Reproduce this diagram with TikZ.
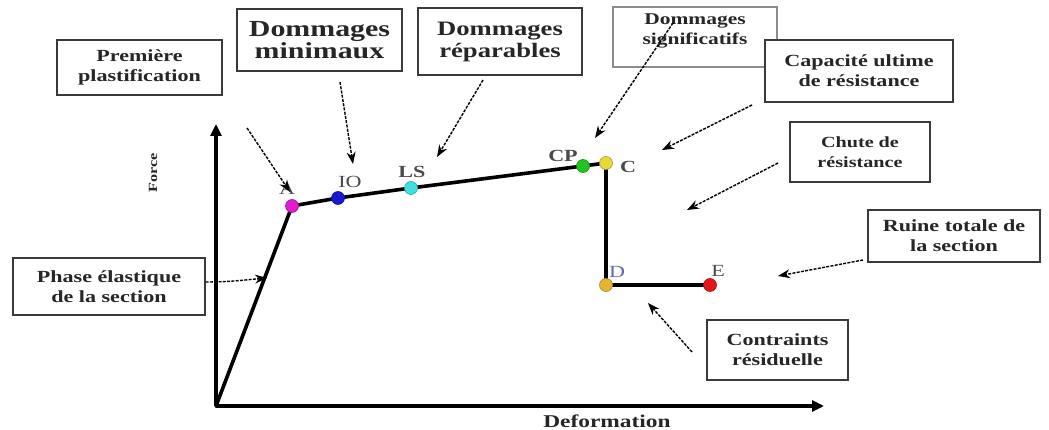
\documentclass[tikz,border=0pt]{standalone}
\usepackage{fontspec}
\setmainfont{Liberation Serif}[FakeStretch=1.3]
\usetikzlibrary{arrows.meta}
\newcommand\setfs[2]{\fontsize{#1}{#2}\selectfont}
\definecolor{boxline}{HTML}{3A3A3A}
\definecolor{txt}{HTML}{262626}
\definecolor{lbl}{HTML}{4A4A4A}
\definecolor{cA}{HTML}{E01ED0}
\definecolor{cIO}{HTML}{1818D0}
\definecolor{cLS}{HTML}{40E0E0}
\definecolor{cCP}{HTML}{22C422}
\definecolor{cC}{HTML}{E6DA38}
\definecolor{cD}{HTML}{E2B630}
\definecolor{cE}{HTML}{E01818}
\begin{document}
\begin{tikzpicture}[x=1pt,y=-1pt,
  box/.style={draw=boxline, line width=1.3pt, fill=white, rectangle, inner sep=0pt,
              align=center, font=\bfseries\setfs{17}{20}, text=txt},
  note/.style={dash pattern=on 3pt off 1.3pt, line width=1.4pt,
               -{Stealth[length=12pt,width=9pt]}},
  curve/.style={line width=3.6pt, line join=round, line cap=round},
  axis/.style={line width=4pt, -{Triangle[length=12pt,width=11pt]}},
  pt/.style={circle, inner sep=0pt, minimum size=13pt, draw=#1!75!black,
             fill=#1, line width=0.6pt},
  ptlabel/.style={font=\setfs{17}{20}, text=lbl}
]
\useasboundingbox (0,0) rectangle (1049,430);

% annotation boxes
\node[box, minimum width=165pt, minimum height=55pt] (prem) at (139.5,67.5)
  {Première\\plastification};
\node[box, minimum width=165pt, minimum height=62pt, font=\bfseries\setfs{23}{22}] (dmin) at (319.5,40)
  {Dommages\\minimaux};
\node[box, minimum width=164pt, minimum height=67pt, font=\bfseries\setfs{20.5}{22}] (drep) at (500,41.5)
  {Dommages\\réparables};
\node[box, draw=black!45, minimum width=164pt, minimum height=60pt] (dsig) at (695,37) {};
\node[font=\bfseries\setfs{16.5}{20}, text=txt, align=center] (dsigt) at (695,31)
  {Dommages\\significatifs};
\node[box, minimum width=188pt, minimum height=62pt] (capu) at (859,71)
  {Capacité ultime\\de résistance};
\node[box, minimum width=140pt, minimum height=60pt, font=\bfseries\setfs{15.5}{20}] (chute) at (860,152)
  {Chute de\\résistance};
\node[box, minimum width=172pt, minimum height=52pt] (ruine) at (954,236)
  {Ruine totale de\\la section};
\node[box, minimum width=141pt, minimum height=60pt] (contr) at (777.5,350)
  {Contraints\\résiduelle};
\node[box, minimum width=192pt, minimum height=57pt] (phase) at (109,286.5)
  {Phase élastique\\de la section};

% axes
\coordinate (O) at (216,406);
\coordinate (ytip) at (216,124);
\coordinate (xtip) at (824,406);
\draw[axis] (O) -- (ytip);
\draw[axis] (O) -- (xtip);
\node[font=\bfseries\setfs{12.5}{14}, text=txt, rotate=90] (force) at (153,173) {Force};
\node[font=\bfseries\setfs{18}{20}, text=txt] (deform) at (607,421) {Deformation};

% force-deformation curve
\coordinate (A) at (292,206);
\coordinate (IO) at (338,198);
\coordinate (LS) at (411,188);
\coordinate (CP) at (583,166);
\coordinate (C) at (606,163);
\coordinate (D) at (606,285);
\coordinate (E) at (710,285);
\draw[curve] (O) -- (A) -- (IO) -- (LS) -- (CP) -- (C);
\draw[curve, line width=4.4pt] (C) -- (D);
\draw[curve] (D) -- (E);

% point labels
\node[ptlabel] (lA) at (287,189) {A};
\node[ptlabel] (lIO) at (350,182) {IO};
\node[ptlabel, font=\bfseries\setfs{17}{20}] (lLS) at (412,172) {LS};
\node[ptlabel, font=\bfseries\setfs{17}{20}] (lCP) at (563,156) {CP};
\node[ptlabel, font=\bfseries\setfs{17}{20}] (lC) at (628,167) {C};
\node[ptlabel, text=black!60!blue!60] (lD) at (617,272) {D};
\node[ptlabel] (lE) at (718,271) {E};

% performance points
\node[pt=cA] (pA) at (A) {};
\node[pt=cIO] (pIO) at (IO) {};
\node[pt=cLS] (pLS) at (LS) {};
\node[pt=cCP] (pCP) at (CP) {};
\node[pt=cC] (pC) at (C) {};
\node[pt=cD] (pD) at (D) {};
\node[pt=cE] (pE) at (E) {};

% annotation arrows
\coordinate (s1) at (247,128);  \coordinate (t1) at (290,192);
\coordinate (s2) at (340,82);   \coordinate (t2) at (353,164);
\coordinate (s3) at (483,80);   \coordinate (t3) at (437,157);
\coordinate (s4) at (673,23);   \coordinate (t4) at (595,138);
\coordinate (s5) at (752,105);  \coordinate (t5) at (662,150);
\coordinate (s6) at (778,163);  \coordinate (t6) at (687,210);
\coordinate (s7) at (863,260);  \coordinate (t7) at (778,276);
\coordinate (s8) at (692,352);  \coordinate (t8) at (648,303);
\coordinate (s9) at (phase.east |- 0,282); \coordinate (t9) at (267,278);
\draw[note] (s1) -- (t1);
\draw[note] (s2) -- (t2);
\draw[note] (s3) -- (t3);
\draw[note] (s4) -- (t4);
\draw[note] (s5) -- (t5);
\draw[note] (s6) -- (t6);
\draw[note] (s7) -- (t7);
\draw[note] (s8) -- (t8);
\draw[note] (s9) to[out=0, in=185] (t9);
\end{tikzpicture}
\end{document}
